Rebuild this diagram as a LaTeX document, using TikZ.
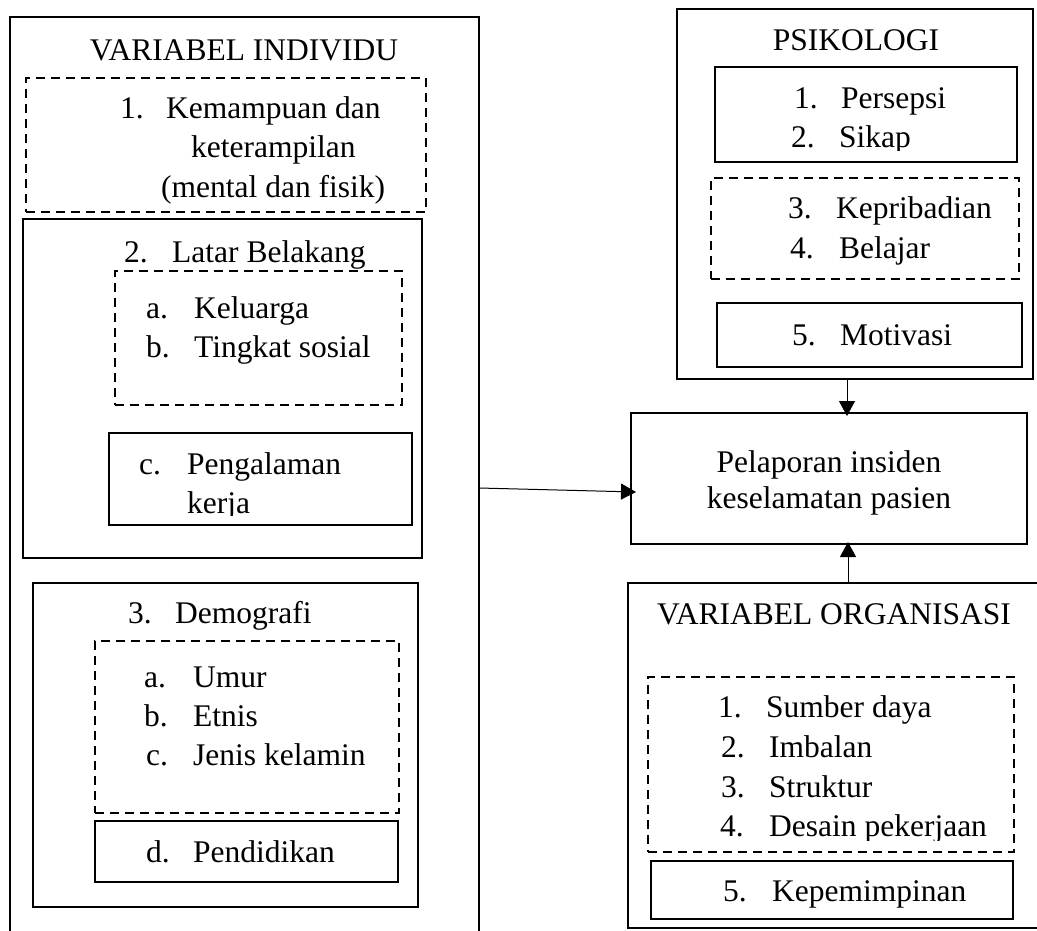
\documentclass[tikz,border=0pt]{standalone}
\usepackage{fontspec}
\setmainfont{Liberation Serif}
\usetikzlibrary{arrows.meta,fit,calc}
\begin{document}
\begin{tikzpicture}[x=1pt,y=-1pt,
  box/.style={draw, line width=2pt, inner sep=0pt},
  dbox/.style={draw, line width=2pt, dash pattern=on 9pt off 6pt, inner sep=0pt},
  txt/.style={inner sep=0pt, anchor=base west, font=\fontsize{31.5}{38}\selectfont},
  ctxt/.style={txt, anchor=base},
  arr/.style={line width=1pt, -{Triangle[length=15pt,width=16pt]}}]
\useasboundingbox (0,0) rectangle (1037,930);
\clip (0,0) rectangle (1037,930);
\fill[white] (0,0) rectangle (1037,930);

% ---------- VARIABEL INDIVIDU ----------
\node[fit={(10,17)(479,945)}, inner sep=0pt] (indiv) {};
\draw[line width=2pt] (indiv.south west) -- (indiv.north west) -- (indiv.north east) -- (indiv.south east);
\node[ctxt] (tIndiv) at (244,60) {VARIABEL INDIVIDU};

\node[dbox, fit={(26,78)(426,212)}] (kemampuan) {};
\node[txt] (n1) at (120,118) {1.};
\node[txt] (t1a) at (166,118) {Kemampuan dan};
\node[txt] (t1b) at (191,157) {keterampilan};
\node[txt] (t1c) at (161,197) {(mental dan fisik)};

\node[box, fit={(23,219)(422,558)}] (latar) {};
\node[txt] (n2) at (124,262) {2.};
\node[txt] (t2) at (172,262) {Latar Belakang};
\node[dbox, fit={(115,271)(402,405)}] (latarAB) {};
\node[txt] (na) at (146,318) {a.};
\node[txt] (ta) at (194,318) {Keluarga};
\node[txt] (nb) at (146,357) {b.};
\node[txt] (tb) at (194,357) {Tingkat sosial};
\node[box, fit={(109,433)(412,525)}] (latarC) {};
\node[txt] (nc) at (139,474) {c.};
\node[txt] (tc) at (187,474) {Pengalaman};
\begin{scope}
\clip (109,433) rectangle (412,515);
\node[txt] (tc2) at (187,513) {kerja};
\end{scope}

\node[box, fit={(33,583)(418,907)}] (demog) {};
\node[txt] (n3) at (128,623) {3.};
\node[txt] (t3) at (175,623) {Demografi};
\node[dbox, fit={(95,641)(399,813)}] (demogABC) {};
\node[txt] (nda) at (144,687) {a.};
\node[txt] (tda) at (193,687) {Umur};
\node[txt] (ndb) at (144,726) {b.};
\node[txt] (tdb) at (193,726) {Etnis};
\node[txt] (ndc) at (146,765) {c.};
\node[txt] (tdc) at (193,765) {Jenis kelamin};
\node[box, fit={(95,821)(398,882)}] (demogD) {};
\node[txt] (ndd) at (146,862) {d.};
\node[txt] (tdd) at (193,862) {Pendidikan};

% ---------- PSIKOLOGI ----------
\node[box, fit={(677,9)(1033,379)}] (psi) {};
\node[ctxt] (tPsi) at (856,50) {PSIKOLOGI};
\node[box, fit={(715,67)(1017,162)}] (psi12) {};
\node[txt] (p1) at (794,108) {1.};
\node[txt] (tp1) at (841,108) {Persepsi};
\begin{scope}
\clip (715,67) rectangle (1017,150);
\node[txt] (p2) at (791,147) {2.};
\node[txt] (tp2) at (839,147) {Sikap};
\end{scope}
\node[dbox, fit={(711,178)(1019,279)}] (psi34) {};
\node[txt] (p3) at (788,218) {3.};
\node[txt] (tp3) at (836,218) {Kepribadian};
\node[txt] (p4) at (790,258) {4.};
\node[txt] (tp4) at (839,258) {Belajar};
\node[box, fit={(717,303)(1022,367)}] (psi5) {};
\node[txt] (p5) at (792,345) {5.};
\node[txt] (tp5) at (840,345) {Motivasi};

% ---------- TARGET ----------
\node[box, fit={(631,413)(1027,544)}] (target) {};
\node[ctxt] (tT1) at (829,472) {Pelaporan insiden};
\node[ctxt] (tT2) at (829,508) {keselamatan pasien};

% ---------- VARIABEL ORGANISASI ----------
\node[box, fit={(628,583)(1060,928)}] (org) {};
\node[ctxt] (tOrg) at (834,624) {VARIABEL ORGANISASI};
\node[dbox, fit={(648,677)(1014,852)}] (org14) {};
\node[txt] (o1) at (718,717) {1.};
\node[txt] (to1) at (766,717) {Sumber daya};
\node[txt] (o2) at (721,757) {2.};
\node[txt] (to2) at (769,757) {Imbalan};
\node[txt] (o3) at (721,797) {3.};
\node[txt] (to3) at (769,797) {Struktur};
\begin{scope}
\clip (648,677) rectangle (1014,840);
\node[txt] (o4) at (720,836) {4.};
\node[txt] (to4) at (769,836) {Desain pekerjaan};
\end{scope}
\node[box, fit={(651,861)(1013,919)}] (org5) {};
\node[txt] (o5) at (723,901) {5.};
\node[txt] (to5) at (772,901) {Kepemimpinan};

% ---------- CONNECTORS ----------
\coordinate (yA) at (0,488);
\coordinate (xA) at (847,0);
\coordinate (xB) at (848,0);
\draw[arr] (indiv.east |- yA) -- ($(target.west)+(6,13.5)$);
\draw[arr] (psi.south -| xA) -- ($(target.north -| xA)+(0,4)$);
\draw[arr] (org.north -| xB) -- ($(target.south -| xB)+(0,-3)$);
\end{tikzpicture}
\end{document}
